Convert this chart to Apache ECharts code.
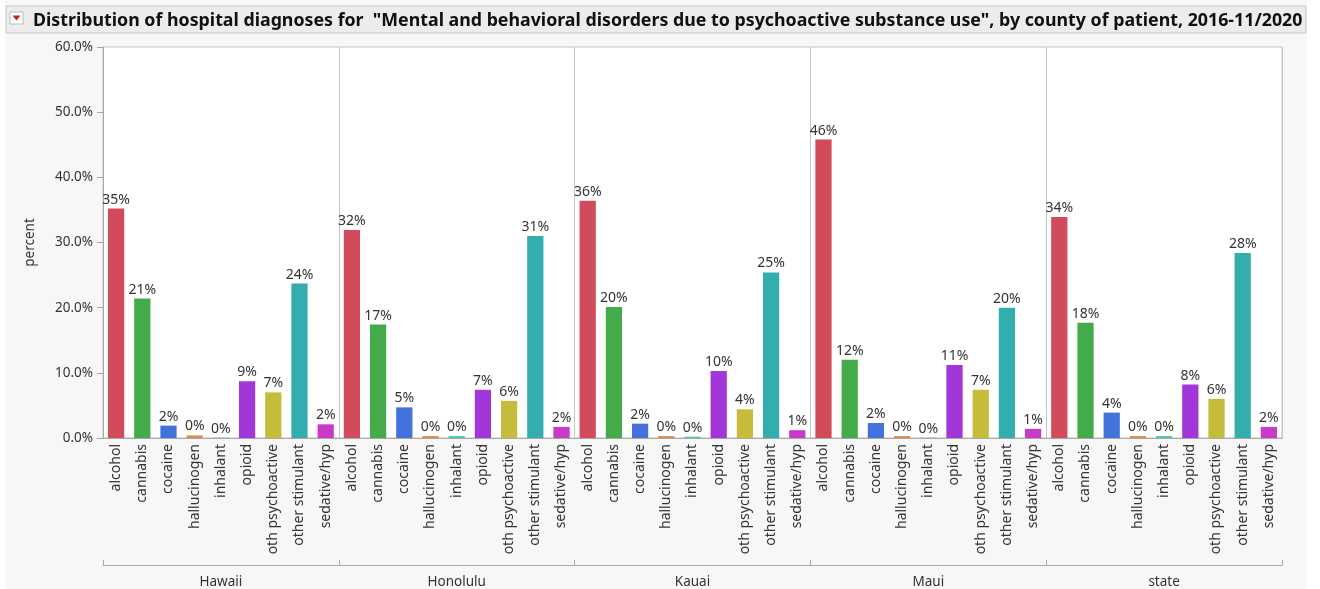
<!DOCTYPE html>
<html>
<head>
<meta charset="utf-8">
<script src="https://cdn.jsdelivr.net/npm/echarts@6/dist/echarts.min.js"></script>
<style>
  html, body { margin: 0; padding: 0; background: #fff; }
  #chart { width: 1320px; height: 589px;
    background: linear-gradient(to right, #fff 5px, #f7f7f7 5px, #f7f7f7 1307px, #fff 1307px); }
</style>
</head>
<body>
<div id="chart"></div>
<script>
// substance categories (x axis, repeated per county)
var substances = ['alcohol', 'cannabis', 'cocaine', 'hallucinogen', 'inhalant', 'opioid',
                  'oth psychoactive', 'other stimulant', 'sedative/hyp'];
var counties = ['Hawaii', 'Honolulu', 'Kauai', 'Maui', 'state'];

// percent of diagnoses
var hawaii   = [35.2, 21.4, 1.9, 0.4, 0.05, 8.7, 7.0, 23.7, 2.1];
var honolulu = [31.9, 17.4, 4.7, 0.3, 0.3, 7.4, 5.7, 31.0, 1.7];
var kauai    = [36.4, 20.1, 2.2, 0.3, 0.2, 10.3, 4.4, 25.4, 1.2];
var maui     = [45.8, 12.0, 2.3, 0.3, 0.05, 11.2, 7.4, 20.0, 1.4];
var stateAll = [33.9, 17.7, 3.9, 0.3, 0.3, 8.2, 6.0, 28.4, 1.7];

var yTicks = [0, 10, 20, 30, 40, 50, 60];

// JMP default palette, one per substance
var colors = ['#d24b5a', '#43ab4a', '#4472db', '#e08b4b', '#52c7ad', '#a336d8',
              '#c4bc3a', '#33adad', '#c93ac9'];

var byCounty = [hawaii, honolulu, kauai, maui, stateAll];
var xCats = [];
var barData = [];
byCounty.forEach(function (vals, g) {
    vals.forEach(function (v, i) {
        xCats.push(substances[i]);
        barData.push({ value: v, itemStyle: { color: colors[i] } });
    });
});

var chart = echarts.init(document.getElementById('chart'));
var txt = '#333';
var fontFam = '"Noto Sans", "Open Sans", sans-serif';

chart.setOption({
    animation: false,
    textStyle: { fontFamily: fontFam },
    title: {
        text: 'Distribution of hospital diagnoses for  "Mental and behavioral disorders due to psychoactive substance use", by county of patient, 2016-11/2020',
        left: 28, top: 7,
        textStyle: { fontSize: 17.8, fontWeight: 'bold', color: '#111', fontFamily: fontFam }
    },
    graphic: [
        { type: 'rect', z: -1, shape: { x: 6, y: 6, width: 1300, height: 27 },
          style: { fill: '#ececec', stroke: '#c9c9c9', lineWidth: 1 } },
        { type: 'rect', shape: { x: 10, y: 12, width: 13, height: 12 },
          style: { fill: '#fff', stroke: '#bbb', lineWidth: 1 } },
        { type: 'polygon', shape: { points: [[12.5, 15.5], [20.5, 15.5], [16.5, 20.5]] },
          style: { fill: '#d21c1c' } }
    ],
    grid: {
        left: 103, right: 38, top: 47, bottom: 150,
        show: true, backgroundColor: '#fff', borderColor: '#c4c4c4', borderWidth: 1
    },
    xAxis: [{
        type: 'category',
        data: xCats,
        axisLine: { lineStyle: { color: '#a8a8a8' } },
        axisTick: { show: false },
        axisLabel: { interval: 0, rotate: 90, fontSize: 14, color: txt, margin: 6 }
    }, {
        type: 'category',
        data: counties,
        position: 'bottom',
        offset: 127,
        axisLine: { show: true, lineStyle: { color: '#a8a8a8' } },
        axisTick: { show: true, inside: true, length: 5, lineStyle: { color: '#a8a8a8' } },
        axisLabel: { fontSize: 13.5, color: txt, margin: 10 },
        splitLine: { show: true, lineStyle: { color: '#c4c4c4' } }
    }],
    yAxis: {
        type: 'value',
        min: 0, max: 60, interval: 10,
        name: 'percent',
        nameLocation: 'middle',
        nameGap: 66,
        nameTextStyle: { fontSize: 13.5, color: txt },
        axisLine: { show: true, lineStyle: { color: '#a8a8a8' } },
        axisTick: { show: true, length: 6, lineStyle: { color: '#a8a8a8' } },
        splitLine: { show: false },
        axisLabel: {
            fontSize: 13.5, color: txt, margin: 10,
            formatter: function (v) { return yTicks.indexOf(v) >= 0 ? v.toFixed(1) + '%' : ''; }
        }
    },
    series: [{
        type: 'bar',
        data: barData,
        barCategoryGap: '38%',
        label: {
            show: true, position: 'top', distance: 2,
            fontSize: 14, color: txt,
            formatter: function (p) { return Math.round(p.value) + '%'; }
        }
    }]
});
</script>
</body>
</html>
